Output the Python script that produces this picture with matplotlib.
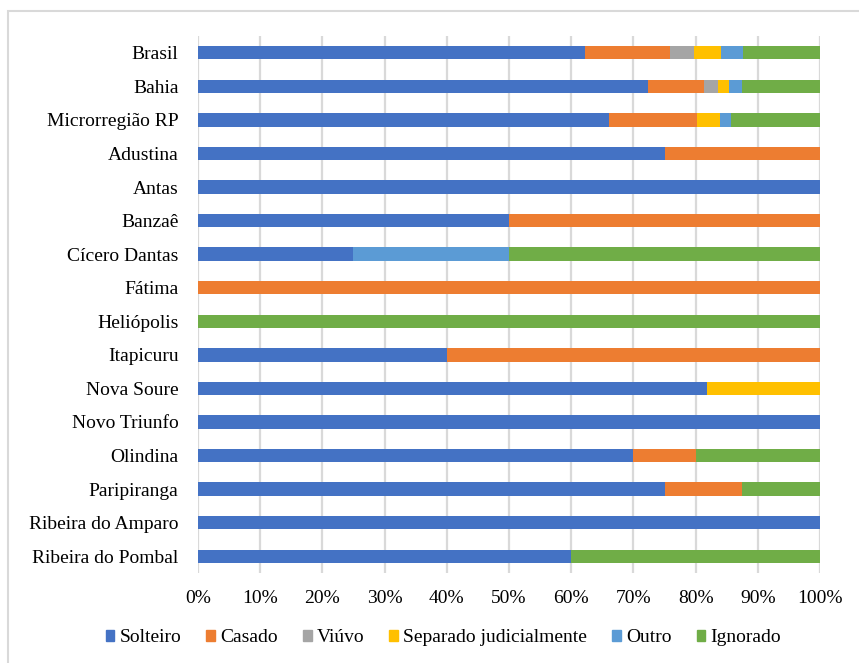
import numpy as np
import matplotlib.pyplot as plt
from matplotlib.patches import Rectangle, Patch
from matplotlib.ticker import PercentFormatter

plt.rcParams['font.family'] = ['Liberation Serif', 'DejaVu Serif']

regions = ['Brasil', 'Bahia', 'Microrregião RP', 'Adustina', 'Antas', 'Banzaê',
           'Cícero Dantas', 'Fátima', 'Heliópolis', 'Itapicuru', 'Nova Soure',
           'Novo Triunfo', 'Olindina', 'Paripiranga', 'Ribeira do Amparo',
           'Ribeira do Pombal']

# percent shares per region
solteiro = [62.2, 72.3, 66.0, 75, 100, 50, 25, 0, 0, 40, 81.8, 100, 70, 75, 100, 60]
casado = [13.7, 9.0, 14.3, 25, 0, 50, 0, 100, 0, 60, 0, 0, 10, 12.5, 0, 0]
viuvo = [3.9, 2.3, 0, 0, 0, 0, 0, 0, 0, 0, 0, 0, 0, 0, 0, 0]
separado = [4.3, 1.8, 3.7, 0, 0, 0, 0, 0, 0, 0, 18.2, 0, 0, 0, 0, 0]
outro = [3.6, 2.0, 1.7, 0, 0, 0, 25, 0, 0, 0, 0, 0, 0, 0, 0, 0]
ignorado = [12.3, 12.6, 14.3, 0, 0, 0, 50, 0, 100, 0, 0, 0, 20, 12.5, 0, 40]

series = [('Solteiro', solteiro, '#4472C4'),
          ('Casado', casado, '#ED7D31'),
          ('Viúvo', viuvo, '#A5A5A5'),
          ('Separado judicialmente', separado, '#FFC000'),
          ('Outro', outro, '#5B9BD5'),
          ('Ignorado', ignorado, '#70AD47')]

fig = plt.figure(figsize=(8.59, 6.63), dpi=100)
ax = fig.add_axes([0.2305, 0.1357, 0.7241, 0.81])

y = np.arange(len(regions))
left = np.zeros(len(regions))
for name, vals, color in series:
    vals = np.array(vals, dtype=float)
    ax.barh(y, vals, left=left, height=0.4, color=color, label=name, zorder=3)
    left += vals

ax.set_ylim(len(regions) - 0.5, -0.5)
ax.set_xlim(0, 100)
ax.set_xticks(np.arange(0, 101, 10))
ax.xaxis.set_major_formatter(PercentFormatter(decimals=0))
ax.set_yticks(y)
ax.set_yticklabels(regions)
ax.tick_params(length=0, labelsize=14, colors='#000000')
ax.tick_params(axis='x', pad=12.5)
ax.tick_params(axis='y', pad=14)
ax.grid(axis='x', color='#d9d9d9', linewidth=1.6, zorder=0)
for s in ax.spines.values():
    s.set_visible(False)

handles = [Patch(color=c, label=n) for n, _, c in series]
fig.legend(handles=handles, loc='center', bbox_to_anchor=(0.516, 0.038), ncol=6,
           frameon=False, fontsize=14, handlelength=0.45, handleheight=0.45,
           handletextpad=0.25, columnspacing=1.3)

# chart frame, its right and bottom edges fall outside the image
fig.patches.append(Rectangle((0.0093, -0.02), 1.0, 1.0034, transform=fig.transFigure,
                             fill=False, edgecolor='#d9d9d9', linewidth=1.5))

fig.savefig('out.png', dpi=100)
